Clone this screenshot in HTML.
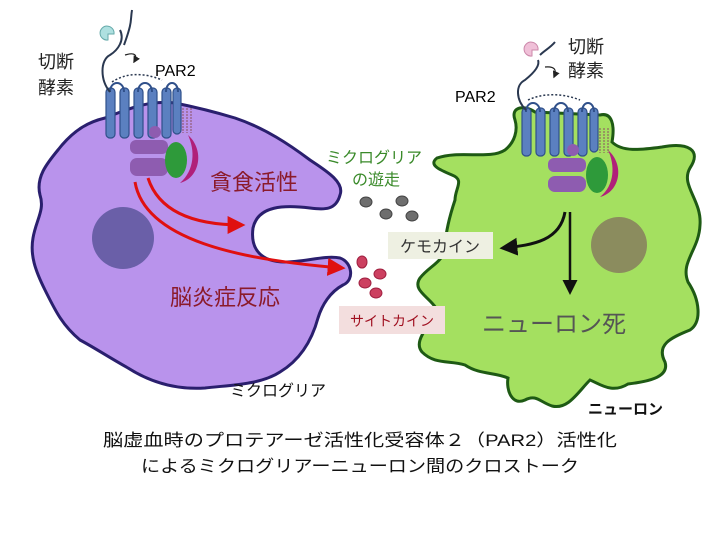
<!DOCTYPE html>
<html><head><meta charset="utf-8"><style>
body{margin:0;background:#fff}
svg{display:block}
text{font-family:"Liberation Sans","Noto Sans CJK JP",sans-serif}
</style></head><body>
<svg width="720" height="540" viewBox="0 0 720 540" xmlns="http://www.w3.org/2000/svg">
<defs>
<marker id="rh" viewBox="0 0 10 10" refX="8" refY="5" markerWidth="6" markerHeight="6" orient="auto"><path d="M0,0 L10,5 L0,10 z" fill="#e01010"/></marker>
<marker id="bh" viewBox="0 0 10 10" refX="8" refY="5" markerWidth="6" markerHeight="6" orient="auto"><path d="M0,0 L10,5 L0,10 z" fill="#111"/></marker>
<marker id="sh" viewBox="0 0 10 10" refX="8" refY="5" markerWidth="6" markerHeight="6" orient="auto"><path d="M0,0 L10,5 L0,10 z" fill="#222"/></marker>
</defs>

<!-- microglia -->
<path d="M105,118 C130,108 150,100 175,103 C200,108 215,112 235,118 C265,128 290,145 310,160 C325,170 345,182 340,195 C336,210 325,210 310,208 C285,205 258,205 253,228 C250,250 262,262 285,262 C305,262 325,255 340,258 C352,262 355,280 343,285 C330,292 322,305 318,318 C312,340 300,360 280,372 C260,385 230,385 205,388 C175,390 150,382 128,368 C105,355 95,348 80,340 C62,325 55,310 45,290 C35,270 30,255 33,238 C36,220 45,210 40,195 C35,175 50,160 62,145 C75,130 88,122 105,118 Z" fill="#b993ec" stroke="#2a1f6e" stroke-width="3"/>
<circle cx="123" cy="238" r="31" fill="#6a5fa8"/>

<!-- neuron -->
<path d="M515,120 C510,106 525,105 535,112 L600,115 C612,112 615,125 612,142 C622,152 640,150 662,147 C688,142 702,150 690,168 C680,185 702,200 700,225 C699,250 680,262 688,282 C700,300 702,322 690,330 C670,338 656,345 665,362 C670,378 645,382 628,384 C612,394 600,384 590,380 C578,392 568,410 552,406 C540,402 536,394 525,400 C512,406 506,390 508,378 C495,372 480,375 465,365 C450,360 435,365 422,352 C412,340 432,325 436,308 C428,296 412,290 420,278 C430,265 445,262 445,245 C446,230 450,215 455,200 C455,188 465,180 452,175 C440,170 428,165 437,158 C460,150 490,160 505,150 C515,142 518,130 515,120 Z" fill="#a4e060" stroke="#1e5a14" stroke-width="3"/>
<circle cx="619" cy="245" r="28" fill="#8b8c5e"/>

<!-- left receptor -->
<g fill="#5b80c0" stroke="#30508a" stroke-width="1.2">
<rect x="106" y="88" width="9" height="50" rx="4"/><rect x="120" y="88" width="9" height="50" rx="4"/>
<rect x="134" y="88" width="9" height="50" rx="4"/><rect x="148" y="88" width="9" height="50" rx="4"/>
<rect x="162" y="88" width="9" height="50" rx="4"/><rect x="173" y="88" width="8" height="46" rx="4"/>
</g>
<path d="M110,92 C110,80 124,80 124,92 M138,92 C138,80 152,80 152,92 M166,92 C166,80 178,80 178,92" fill="none" stroke="#30508a" stroke-width="2"/>
<path d="M110,92 C100,80 100,60 110,55 C118,50 125,40 120,30 M124,45 C133,20 130,22 132,10" fill="none" stroke="#2a3850" stroke-width="2"/>
<path d="M112,82 C130,70 150,75 162,80" fill="none" stroke="#2a3850" stroke-width="1.5" stroke-dasharray="2,2"/>
<path d="M125,55 C135,52 138,55 134,62" fill="none" stroke="#222" stroke-width="1.2" marker-end="url(#sh)"/>
<path d="M108,40 a7,7 0 1 1 6,-6 l-6,0 z" fill="#aee0e0" stroke="#6aa" stroke-width="1"/>
<path d="M183,108 v25 M187,108 v25 M191,108 v25" stroke="#8a5060" stroke-width="1" stroke-dasharray="2,1"/>
<rect x="130" y="140" width="38" height="14" rx="6" fill="#8e5cb0"/>
<rect x="130" y="158" width="38" height="18" rx="7" fill="#8e5cb0"/>
<circle cx="155" cy="132" r="6" fill="#8e5cb0"/>
<ellipse cx="176" cy="160" rx="11" ry="18" fill="#2e9a3a"/>
<path d="M188,135 C205,150 200,178 180,183 C195,170 195,150 188,135 Z" fill="#b0207a"/>

<!-- right receptor -->
<g fill="#5b80c0" stroke="#30508a" stroke-width="1.2">
<rect x="522" y="108" width="9" height="48" rx="4"/><rect x="536" y="108" width="9" height="48" rx="4"/>
<rect x="550" y="108" width="9" height="48" rx="4"/><rect x="564" y="108" width="9" height="48" rx="4"/>
<rect x="578" y="108" width="9" height="48" rx="4"/><rect x="590" y="108" width="8" height="44" rx="4"/>
</g>
<path d="M526,112 C526,100 540,100 540,112 M554,112 C554,100 568,100 568,112 M582,112 C582,100 594,100 594,112" fill="none" stroke="#30508a" stroke-width="2"/>
<path d="M526,110 C516,100 515,85 525,80 C535,72 540,65 538,60 M540,55 C545,50 550,48 555,42" fill="none" stroke="#2a3850" stroke-width="2"/>
<path d="M528,100 C545,92 565,94 580,100" fill="none" stroke="#2a3850" stroke-width="1.5" stroke-dasharray="2,2"/>
<path d="M545,67 C555,66 557,70 554,77" fill="none" stroke="#222" stroke-width="1.2" marker-end="url(#sh)"/>
<path d="M532,56 a7,7 0 1 1 6,-6 l-6,0 z" fill="#f0c0d8" stroke="#c8a" stroke-width="1"/>
<path d="M600,128 v25 M604,128 v25 M608,128 v25" stroke="#8a5060" stroke-width="1" stroke-dasharray="2,1"/>
<rect x="548" y="158" width="38" height="14" rx="6" fill="#8e5cb0"/>
<rect x="548" y="176" width="38" height="16" rx="7" fill="#8e5cb0"/>
<circle cx="573" cy="150" r="6" fill="#8e5cb0"/>
<ellipse cx="597" cy="175" rx="11" ry="18" fill="#2e9a3a"/>
<path d="M608,150 C625,165 620,192 600,197 C615,185 615,165 608,150 Z" fill="#b0207a"/>

<!-- red arrows -->
<path d="M148,178 C160,215 200,225 242,225" fill="none" stroke="#e01010" stroke-width="3" marker-end="url(#rh)"/>
<path d="M135,182 C145,240 240,260 342,268" fill="none" stroke="#e01010" stroke-width="3" marker-end="url(#rh)"/>
<!-- black arrows -->
<path d="M570,212 L570,292" stroke="#111" stroke-width="2.5" marker-end="url(#bh)"/>
<path d="M565,212 C560,240 535,245 503,248" fill="none" stroke="#111" stroke-width="3" marker-end="url(#bh)"/>

<!-- dots -->
<g fill="#6e6e6e" stroke="#444"><ellipse cx="366" cy="202" rx="6" ry="5"/><ellipse cx="386" cy="214" rx="6" ry="5"/><ellipse cx="402" cy="201" rx="6" ry="5"/><ellipse cx="412" cy="216" rx="6" ry="5"/></g>
<g fill="#cc4060" stroke="#a02040"><ellipse cx="362" cy="262" rx="5" ry="6"/><ellipse cx="380" cy="274" rx="6" ry="5"/><ellipse cx="365" cy="283" rx="6" ry="5"/><ellipse cx="376" cy="293" rx="6" ry="5"/></g>

<!-- labels -->
<rect x="388" y="232" width="105" height="27" fill="#eef0e2"/>
<text x="440" y="252" font-size="16" fill="#333" text-anchor="middle">ケモカイン</text>
<rect x="339" y="306" width="106" height="28" fill="#f3dede"/>
<text x="392" y="326" font-size="14" fill="#a01020" text-anchor="middle">サイトカイン</text>

<text x="38" y="68" font-size="18" fill="#222">切断</text>
<text x="38" y="94" font-size="18" fill="#222">酵素</text>
<text x="155" y="76" font-size="16" fill="#000">PAR2</text>
<text x="568" y="53" font-size="18" fill="#222">切断</text>
<text x="568" y="77" font-size="18" fill="#222">酵素</text>
<text x="455" y="102" font-size="16" fill="#000">PAR2</text>
<text x="210" y="190" font-size="22" fill="#8b1a2a">貪食活性</text>
<text x="170" y="305" font-size="22" fill="#8b1a2a">脳炎症反応</text>
<text x="326" y="163" font-size="16" fill="#3a8a2a">ミクログリア</text>
<text x="352" y="185" font-size="16" fill="#3a8a2a">の遊走</text>
<text x="482" y="332" font-size="24" fill="#555">ニューロン死</text>
<text x="230" y="396" font-size="16" fill="#111">ミクログリア</text>
<text x="588" y="414" font-size="15" font-weight="bold" fill="#111">ニューロン</text>

<text x="360" y="446" font-size="17" fill="#111" text-anchor="middle" textLength="514" lengthAdjust="spacingAndGlyphs">脳虚血時のプロテアーゼ活性化受容体２（PAR2）活性化</text>
<text x="360" y="472" font-size="17" fill="#111" text-anchor="middle" textLength="438" lengthAdjust="spacingAndGlyphs">によるミクログリアーニューロン間のクロストーク</text>
</svg>
</body></html>
